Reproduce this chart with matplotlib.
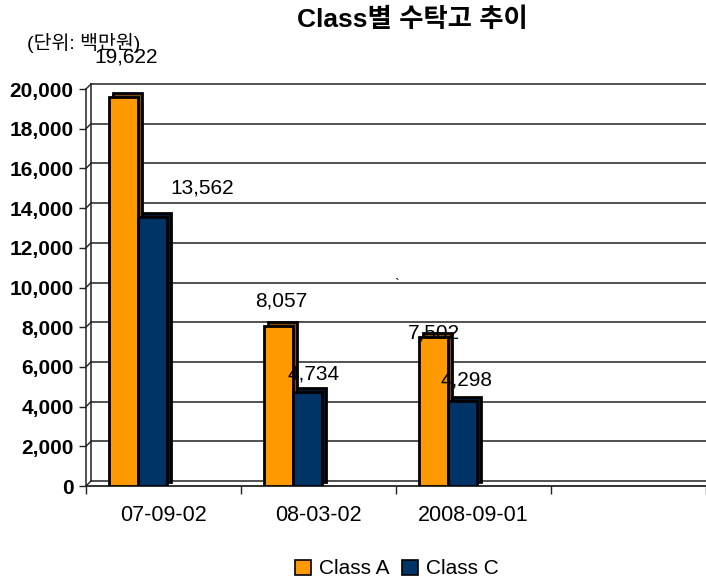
import matplotlib
matplotlib.use("Agg")
import matplotlib.pyplot as plt
from matplotlib.transforms import ScaledTranslation
from matplotlib.patches import Patch

plt.rcParams['font.family'] = ['Liberation Sans', 'Noto Sans CJK KR']

categories = ["07-09-02", "08-03-02", "2008-09-01", ""]
class_a = [19622, 8057, 7502]
class_c = [13562, 4734, 4298]
series_names = ["Class A", "Class C"]
yticks = [0, 2000, 4000, 6000, 8000, 10000, 12000, 14000, 16000, 18000, 20000]

# label offsets (pixels) relative to bar top centre
a_label_off = [(3, 40), (3, 25), (0, 4)]
c_label_off = [(50, 29), (6, 18), (4, 21)]

W, H = 706, 580
DPI = 100
fig = plt.figure(figsize=(W / DPI, H / DPI), dpi=DPI)
left, right, bottom, top = 86, 706, 486, 89
ax = fig.add_axes([left / W, (H - bottom) / H, (right - left) / W, (bottom - top) / H])
ax.set_xlim(-0.5, 3.5)
ax.set_ylim(0, 20000)
for s in ax.spines.values():
    s.set_visible(False)
ax.patch.set_visible(False)

depth = 5 / DPI
off = ax.transData + ScaledTranslation(depth, depth, fig.dpi_scale_trans)
bdepth = 4 / DPI
boff = ax.transData + ScaledTranslation(bdepth, bdepth, fig.dpi_scale_trans)

# back wall gridlines
for v in yticks:
    ax.plot([-0.5, 3.6], [v, v], color='#222222', lw=1.1, transform=off, clip_on=False, zorder=1)
# back wall left edge
ax.plot([-0.5, -0.5], [0, 20000], color='#222222', lw=1.1, transform=off, clip_on=False, zorder=1)
# front y-axis
ax.plot([-0.5, -0.5], [0, 20000], color='#222222', lw=1.1, clip_on=False, zorder=1)
# diagonal connectors
for v in yticks:
    x0, y0 = ax.transData.transform((-0.5, v))
    x1, y1 = off.transform((-0.5, v))
    fig.add_artist(plt.Line2D([x0 / W, x1 / W], [y0 / H, y1 / H], color='#222222', lw=1.0,
                              transform=fig.transFigure))
ax.plot([-0.5, 3.6], [0, 0], color='#222222', lw=1.3, clip_on=False, zorder=1)

bw = 0.187
xa = [i - 0.258 for i in range(len(class_a))]
xc = [i - 0.071 for i in range(len(class_c))]
orange, navy = '#FF9900', '#003366'
# depth (back copies)
ax.bar(xa, class_a, bw, color='#7F4C00', edgecolor='black', lw=2, transform=boff, zorder=2)
ax.bar(xc, class_c, bw, color='#001A33', edgecolor='black', lw=2, transform=boff, zorder=2)
ba = ax.bar(xa, class_a, bw, color=orange, edgecolor='black', lw=2, zorder=3)
bc = ax.bar(xc, class_c, bw, color=navy, edgecolor='black', lw=2, zorder=3)

for x, v, (dx, dy) in zip(xa, class_a, a_label_off):
    ax.annotate(f"{v:,}", (x, v), xytext=(dx, dy), textcoords='offset pixels',
                ha='center', va='center', fontsize=15, zorder=6, annotation_clip=False)
for x, v, (dx, dy) in zip(xc, class_c, c_label_off):
    ax.annotate(f"{v:,}", (x, v), xytext=(dx, dy), textcoords='offset pixels',
                ha='center', va='center', fontsize=15, zorder=6, annotation_clip=False)

ax.set_yticks(yticks)
ax.set_yticklabels([f"{v:,}" for v in yticks], fontsize=15, fontweight='bold')
ax.tick_params(axis='y', length=5, width=1, pad=4, color='#222222')
ax.set_xticks(range(len(categories)))
ax.set_xticklabels(categories, fontsize=15.5)
ax.tick_params(axis='x', which='major', length=0, pad=14)
ax.set_xticks([-0.5, 0.5, 1.5, 2.5, 3.5], minor=True)
ax.tick_params(axis='x', which='minor', length=6, width=1, color='#222222')

fig.text(412 / W, 1 - 20 / H, "Class별 수탁고 추이", ha='center', va='center',
         fontsize=19, fontweight='bold')
fig.text(27 / W, 1 - 43 / H, "(단위: 백만원)", ha='left', va='center', fontsize=14)
fig.text(397 / W, 1 - 285 / H, "`", ha='center', va='center', fontsize=10)

handles = [Patch(facecolor=orange, edgecolor='black', lw=1.2),
           Patch(facecolor=navy, edgecolor='black', lw=1.2)]
fig.legend(handles, series_names, loc='center', bbox_to_anchor=(397 / W, 1 - 569 / H),
           ncol=2, frameon=False, fontsize=15, handlelength=0.75, handleheight=0.75,
           handletextpad=0.4, columnspacing=0.6, borderpad=0)

fig.savefig("out.png", dpi=DPI)
